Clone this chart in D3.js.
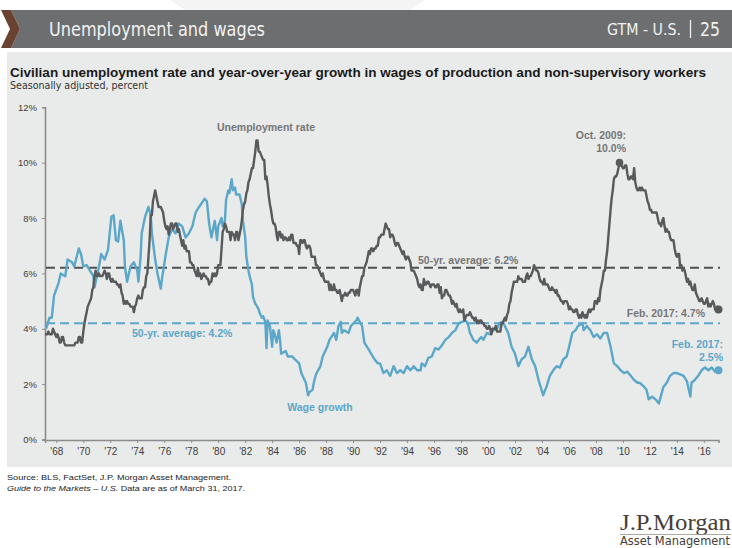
<!DOCTYPE html>
<html>
<head>
<meta charset="utf-8">
<script src="https://cdn.jsdelivr.net/npm/d3@7"></script>
<style>
  html, body { margin: 0; padding: 0; background: #ffffff; }
  svg { display: block; font-family: "Liberation Sans", Arial, sans-serif; }
</style>
</head>
<body>
<svg id="chart" width="732" height="548"></svg>
<script>
// Civilian unemployment rate, monthly, seasonally adjusted (%), from March 1967
const unemploymentStart = "1967-03";
const unemploymentRate = [
  3.8,3.8,3.8,3.9,3.8,3.8,3.8,4.0,3.9,3.8,
  3.7,3.8,3.7,3.5,3.5,3.7,3.7,3.5,3.4,3.4,3.4,3.4,
  3.4,3.4,3.4,3.4,3.4,3.5,3.5,3.5,3.7,3.7,3.5,3.5,
  3.9,4.2,4.4,4.6,4.8,4.9,5.0,5.1,5.4,5.5,5.9,6.1,
  5.9,5.9,6.0,5.9,5.9,5.9,6.0,6.1,6.0,5.8,6.0,6.0,
  5.8,5.7,5.8,5.7,5.7,5.7,5.6,5.6,5.5,5.6,5.3,5.2,
  4.9,5.0,4.9,5.0,4.9,4.9,4.8,4.8,4.8,4.6,4.8,4.9,
  5.1,5.2,5.1,5.1,5.1,5.4,5.5,5.5,5.9,6.0,6.6,7.2,
  8.1,8.1,8.6,8.8,9.0,8.8,8.6,8.4,8.4,8.4,8.3,8.2,
  7.9,7.7,7.6,7.7,7.4,7.6,7.8,7.8,7.6,7.7,7.8,7.8,
  7.5,7.6,7.4,7.2,7.0,7.2,6.9,7.0,6.8,6.8,6.8,6.4,
  6.4,6.3,6.3,6.1,6.0,5.9,6.2,5.9,6.0,5.8,5.9,6.0,
  5.9,5.9,5.8,5.8,5.6,5.7,5.7,6.0,5.9,6.0,5.9,6.0,
  6.3,6.3,6.3,6.9,7.5,7.6,7.8,7.7,7.5,7.5,7.5,7.2,
  7.5,7.4,7.4,7.2,7.5,7.5,7.2,7.4,7.6,7.9,8.3,8.5,
  8.6,8.9,9.0,9.3,9.4,9.6,9.8,9.8,10.1,10.4,10.8,10.8,
  10.4,10.4,10.3,10.2,10.1,10.1,9.4,9.5,9.2,8.8,8.5,8.3,
  8.0,7.8,7.8,7.7,7.4,7.2,7.5,7.5,7.3,7.4,7.2,7.3,
  7.3,7.2,7.2,7.3,7.2,7.4,7.4,7.1,7.1,7.1,7.0,7.0,
  6.7,7.2,7.2,7.1,7.2,7.2,7.0,6.9,7.0,7.0,6.9,6.6,
  6.6,6.6,6.6,6.3,6.3,6.2,6.1,6.0,5.9,6.0,5.8,5.7,
  5.7,5.7,5.7,5.4,5.6,5.4,5.4,5.6,5.4,5.4,5.3,5.3,
  5.4,5.2,5.0,5.2,5.2,5.3,5.2,5.2,5.3,5.3,5.4,5.4,
  5.4,5.3,5.2,5.4,5.4,5.2,5.5,5.7,5.9,5.9,6.2,6.3,
  6.4,6.6,6.8,6.7,6.9,6.9,6.8,6.9,6.9,7.0,7.0,7.3,
  7.3,7.4,7.4,7.4,7.6,7.8,7.7,7.6,7.6,7.3,7.4,7.4,
  7.3,7.1,7.0,7.1,7.1,7.0,6.9,6.8,6.7,6.8,6.6,6.5,
  6.6,6.6,6.5,6.4,6.1,6.1,6.1,6.0,5.9,5.8,5.6,5.5,
  5.6,5.4,5.4,5.8,5.6,5.6,5.7,5.7,5.6,5.5,5.6,5.6,
  5.6,5.5,5.5,5.6,5.6,5.3,5.5,5.1,5.2,5.2,5.4,5.4,
  5.3,5.2,5.2,5.1,4.9,5.0,4.9,4.8,4.9,4.7,4.6,4.7,
  4.6,4.6,4.7,4.3,4.4,4.5,4.5,4.5,4.6,4.5,4.4,4.4,
  4.3,4.4,4.2,4.3,4.2,4.3,4.3,4.2,4.2,4.1,4.1,4.0,
  4.0,4.1,4.0,3.8,4.0,4.0,4.0,4.1,3.9,3.9,3.9,3.9,
  4.2,4.2,4.3,4.4,4.3,4.5,4.6,4.9,5.0,5.3,5.5,5.7,
  5.7,5.7,5.7,5.9,5.8,5.8,5.8,5.7,5.7,5.7,5.9,6.0,
  5.8,5.9,5.9,6.0,6.1,6.3,6.2,6.1,6.1,6.0,5.8,5.7,
  5.7,5.6,5.8,5.6,5.6,5.6,5.5,5.4,5.4,5.5,5.4,5.4,
  5.3,5.4,5.2,5.2,5.1,5.0,5.0,4.9,5.0,5.0,5.0,4.9,
  4.7,4.8,4.7,4.7,4.6,4.6,4.7,4.7,4.5,4.4,4.5,4.4,
  4.6,4.5,4.4,4.5,4.4,4.6,4.7,4.6,4.7,4.7,4.7,5.0,
  5.0,4.9,5.1,5.0,5.4,5.6,5.8,6.1,6.1,6.5,6.8,7.3,
  7.8,8.3,8.7,9.0,9.4,9.5,9.5,9.6,9.8,10.0,9.9,9.9,
  9.8,9.8,9.9,9.9,9.6,9.4,9.4,9.5,9.5,9.4,9.8,9.3,
  9.1,9.0,9.0,9.1,9.0,9.1,9.0,9.0,9.0,8.8,8.6,8.5,
  8.3,8.3,8.2,8.2,8.2,8.2,8.2,8.0,7.8,7.8,7.7,7.9,
  8.0,7.7,7.5,7.6,7.5,7.5,7.3,7.2,7.2,7.2,6.9,6.7,
  6.6,6.7,6.7,6.2,6.3,6.1,6.2,6.1,5.9,5.7,5.8,5.6,
  5.7,5.5,5.4,5.4,5.6,5.3,5.2,5.1,5.0,5.0,5.1,5.0,
  4.9,4.9,5.0,5.1,4.8,4.9,4.8,4.9,5.0,4.9,4.7,4.7,
  4.8,4.7
];

// Year-over-year growth in average hourly earnings of production and
// non-supervisory workers (%)
const wageGrowth = [
  ["1967-04",4.0],["1967-07",4.4],["1967-09",4.4],["1967-11",5.2],
  ["1968-03",5.65],["1968-05",6.0],["1968-09",5.9],["1968-11",6.5],
  ["1969-03",6.4],["1969-05",6.25],["1969-09",6.9],["1969-11",6.7],
  ["1970-01",6.25],["1970-04",6.3],["1970-07",6.1],["1970-10",5.9],["1970-11",5.5],
  ["1971-03",6.25],["1971-05",6.7],["1971-08",6.5],["1971-11",6.85],
  ["1972-02",8.05],["1972-04",8.1],["1972-06",7.2],["1972-08",7.15],["1972-10",7.9],
  ["1973-01",7.2],["1973-02",6.25],["1973-04",5.7],["1973-07",6.25],["1973-10",6.4],
  ["1974-01",6.1],["1974-02",5.7],["1974-04",6.6],["1974-05",7.45],["1974-08",8.05],["1974-11",8.4],
  ["1975-01",8.1],["1975-02",7.45],["1975-05",6.5],["1975-07",6.0],["1975-10",5.45],["1975-11",5.8],
  ["1976-02",6.6],["1976-05",7.3],["1976-08",7.6],["1976-11",7.45],
  ["1977-02",7.8],["1977-05",7.7],["1977-08",7.3],["1977-11",7.45],
  ["1978-02",7.7],["1978-05",8.2],["1978-08",8.4],
  ["1979-01",8.7],["1979-03",8.6],["1979-05",7.8],["1979-07",7.3],["1979-10",7.9],["1979-12",7.2],
  ["1980-01",7.7],["1980-03",7.9],["1980-04",8.0],["1980-05",7.7],["1980-07",7.9],["1980-08",8.65],["1980-10",9.0],["1980-11",8.9],
  ["1981-01",9.4],["1981-02",9.0],["1981-04",9.1],["1981-05",8.85],["1981-08",8.85],["1981-10",8.5],["1981-11",7.9],
  ["1982-01",7.3],["1982-02",6.6],["1982-04",6.1],["1982-05",5.9],["1982-07",5.6],["1982-08",5.15],["1982-10",4.9],["1982-11",4.85],
  ["1983-01",4.7],["1983-02",4.55],["1983-04",4.4],["1983-05",4.45],["1983-07",4.25],["1983-08",3.3],["1983-09",4.3],["1983-11",4.1],
  ["1984-01",3.35],["1984-02",3.95],["1984-03",3.85],["1984-05",3.5],["1984-07",3.95],["1984-08",3.6],["1984-09",3.1],
  ["1985-01",3.2],["1985-03",3.0],["1985-07",3.0],["1985-09",2.9],
  ["1986-01",2.75],["1986-03",2.4],["1986-07",2.05],["1986-09",1.6],["1986-10",1.7],
  ["1987-01",1.8],["1987-02",2.05],["1987-04",2.35],["1987-08",2.65],["1987-10",3.0],
  ["1988-02",3.35],["1988-04",3.6],["1988-08",3.85],["1988-10",3.6],["1988-12",4.1],
  ["1989-02",4.25],["1989-03",3.85],["1989-05",3.95],["1989-09",3.85],["1989-11",4.1],
  ["1990-04",4.3],["1990-05",4.4],["1990-09",4.1],["1990-11",3.5],
  ["1991-03",3.25],["1991-05",3.1],["1991-08",2.9],["1991-11",2.75],
  ["1992-01",2.75],["1992-04",2.4],["1992-07",2.5],["1992-10",2.3],
  ["1993-01",2.65],["1993-04",2.4],["1993-07",2.5],["1993-10",2.4],
  ["1994-01",2.65],["1994-04",2.5],["1994-07",2.65],["1994-10",2.5],
  ["1995-01",2.5],["1995-02",2.75],["1995-05",2.65],["1995-08",2.95],["1995-11",3.0],
  ["1996-02",3.3],["1996-05",3.25],["1996-08",3.4],["1996-11",3.6],
  ["1997-02",3.7],["1997-05",3.85],["1997-08",3.95],["1997-11",4.2],
  ["1998-02",4.25],["1998-05",4.3],["1998-07",4.2],["1998-09",3.85],["1998-12",3.6],
  ["1999-03",3.5],["1999-07",3.7],["1999-09",3.6],["1999-12",3.85],
  ["2000-03",3.8],["2000-06",3.95],["2000-09",4.0],["2000-11",4.2],
  ["2001-02",4.25],["2001-04",4.1],["2001-07",3.85],["2001-10",3.35],
  ["2002-01",3.1],["2002-04",2.65],["2002-07",2.9],["2002-10",3.0],
  ["2003-01",3.35],["2003-04",2.9],["2003-07",2.65],["2003-10",2.15],
  ["2004-01",1.75],["2004-02",1.6],["2004-05",1.9],["2004-08",2.3],["2004-11",2.5],
  ["2005-02",2.65],["2005-05",2.6],["2005-08",2.9],["2005-11",3.0],
  ["2006-02",3.5],["2006-04",3.85],["2006-07",3.95],["2006-09",4.1],
  ["2007-01",4.2],["2007-02",3.95],["2007-05",4.1],["2007-08",3.95],["2007-11",3.7],
  ["2008-02",3.8],["2008-05",3.65],["2008-08",3.85],["2008-11",3.85],
  ["2009-02",3.35],["2009-05",2.75],["2009-08",2.65],["2009-11",2.5],
  ["2010-02",2.4],["2010-05",2.45],["2010-08",2.3],["2010-11",2.15],
  ["2011-02",2.05],["2011-04",2.05],["2011-08",1.9],["2011-10",1.8],["2011-12",1.45],
  ["2012-03",1.55],["2012-06",1.45],["2012-09",1.3],["2012-10",1.45],
  ["2013-01",1.9],["2013-04",2.05],["2013-07",2.3],["2013-10",2.4],
  ["2014-01",2.4],["2014-04",2.35],["2014-07",2.3],["2014-10",2.1],
  ["2015-01",1.55],["2015-02",2.05],["2015-05",2.15],["2015-08",2.3],["2015-11",2.5],
  ["2016-02",2.6],["2016-05",2.5],["2016-08",2.6],["2016-11",2.45],
  ["2017-02",2.5]
];

const unemploymentAverage = 6.2;
const wageAverage = 4.2;
const peakPoint = ["2009-10", 10.0];
const yTickValues = [0, 2, 4, 6, 8, 10, 12];
const xTickYears = d3.range(1968, 2017, 2);

const parseMonth = d3.timeParse("%Y-%m");
const svg = d3.select("#chart");

const colors = {
  unemployment: "#58595b",
  wages: "#5ba7c9",
  label: "#767676",
  axis: "#8c8c8c",
  tickText: "#3c3c3c"
};

// ---------- page furniture ----------
svg.append("polygon")
  .attr("points", "170,0 425,0 410,10 185,10")
  .attr("fill", "#f4f4f4");

svg.append("polygon")
  .attr("points", "11,10 732,10 732,48 11,48 20,29")
  .attr("fill", "#6d6e70");
svg.append("polygon")
  .attr("points", "1,10 11,10 20,29 11,48 1,48 10,29")
  .attr("fill", "#6a4232");

const narrow = '"Liberation Sans Narrow","DejaVu Sans Condensed","Arial Narrow",sans-serif';
svg.append("text")
  .attr("x", 49).attr("y", 36)
  .attr("fill", "#f2f2f2")
  .attr("font-family", narrow)
  .attr("font-size", 19)
  .attr("textLength", 216).attr("lengthAdjust", "spacingAndGlyphs")
  .text("Unemployment and wages");
svg.append("text")
  .attr("x", 607).attr("y", 35)
  .attr("fill", "#f2f2f2")
  .attr("font-family", narrow)
  .attr("font-size", 15)
  .attr("textLength", 74).attr("lengthAdjust", "spacingAndGlyphs")
  .text("GTM - U.S.");
svg.append("line")
  .attr("x1", 690.5).attr("x2", 690.5).attr("y1", 20).attr("y2", 38)
  .attr("stroke", "#f2f2f2").attr("stroke-width", 1.3);
svg.append("text")
  .attr("x", 700).attr("y", 36)
  .attr("fill", "#f2f2f2")
  .attr("font-family", narrow)
  .attr("font-size", 19)
  .attr("textLength", 20).attr("lengthAdjust", "spacingAndGlyphs")
  .text("25");

svg.append("rect")
  .attr("x", 7).attr("y", 52).attr("width", 725).attr("height", 415)
  .attr("fill", "#e9eaea");

svg.append("text")
  .attr("x", 10).attr("y", 77)
  .attr("fill", "#1a1a1a")
  .attr("font-weight", "bold")
  .attr("font-size", 12)
  .attr("textLength", 696).attr("lengthAdjust", "spacingAndGlyphs")
  .text("Civilian unemployment rate and year-over-year growth in wages of production and non-supervisory workers");
svg.append("text")
  .attr("x", 10).attr("y", 89)
  .attr("fill", "#333")
  .attr("font-family", narrow)
  .attr("font-size", 10)
  .attr("textLength", 138).attr("lengthAdjust", "spacingAndGlyphs")
  .text("Seasonally adjusted, percent");

// ---------- scales ----------
const x = d3.scaleTime()
  .domain([parseMonth("1967-03"), parseMonth("2017-02")])
  .range([45, 718.5]);
const y = d3.scaleLinear().domain([0, 12]).range([439.5, 107.3]);

// ---------- axes ----------
const yAxis = svg.append("g")
  .attr("transform", "translate(45,0)")
  .call(d3.axisLeft(y).tickValues(yTickValues).tickSize(3).tickPadding(5)
    .tickFormat(d => d + "%"));
yAxis.select(".domain").attr("stroke", colors.axis).attr("stroke-width", 1.6);
yAxis.selectAll(".tick line").attr("stroke", colors.axis);
yAxis.selectAll(".tick text")
  .attr("fill", colors.tickText).attr("font-size", 9.5)
  .attr("font-family", "Liberation Sans, Arial, sans-serif");

const xAxis = svg.append("g")
  .attr("transform", "translate(0,440)")
  .call(d3.axisBottom(x)
    .tickValues(xTickYears.map(yr => new Date(yr, 0, 1)))
    .tickSize(3).tickPadding(5)
    .tickFormat(d3.timeFormat("'%y")));
xAxis.select(".domain").attr("stroke", colors.axis).attr("stroke-width", 1.6);
xAxis.selectAll(".tick line").attr("stroke", colors.axis);
xAxis.selectAll(".tick text")
  .attr("fill", colors.tickText).attr("font-size", 10)
  .attr("font-family", "Liberation Sans, Arial, sans-serif");

// ---------- average lines ----------
svg.append("line")
  .attr("x1", 46).attr("x2", 720)
  .attr("y1", y(unemploymentAverage)).attr("y2", y(unemploymentAverage))
  .attr("stroke", "#4f5052").attr("stroke-width", 2)
  .attr("stroke-dasharray", "9,5");
svg.append("line")
  .attr("x1", 46).attr("x2", 720)
  .attr("y1", y(wageAverage)).attr("y2", y(wageAverage))
  .attr("stroke", colors.wages).attr("stroke-width", 2)
  .attr("stroke-dasharray", "9,5");

// ---------- series ----------
const start = parseMonth(unemploymentStart);
const unemploymentSeries = unemploymentRate.map((v, i) => ({
  date: d3.timeMonth.offset(start, i), value: v
}));
const wageSeries = wageGrowth.map(([m, v]) => ({ date: parseMonth(m), value: v }));

const line = d3.line().x(d => x(d.date)).y(d => y(d.value));

svg.append("path")
  .datum(wageSeries)
  .attr("d", line)
  .attr("fill", "none")
  .attr("stroke", colors.wages)
  .attr("stroke-width", 2.4)
  .attr("stroke-linejoin", "round");

svg.append("path")
  .datum(unemploymentSeries)
  .attr("d", line)
  .attr("fill", "none")
  .attr("stroke", colors.unemployment)
  .attr("stroke-width", 2.4)
  .attr("stroke-linejoin", "round");

// highlighted points
const lastU = unemploymentSeries[unemploymentSeries.length - 1];
const lastW = wageSeries[wageSeries.length - 1];
svg.append("circle")
  .attr("cx", x(parseMonth(peakPoint[0]))).attr("cy", y(peakPoint[1])).attr("r", 3.8)
  .attr("fill", colors.unemployment);
svg.append("circle")
  .attr("cx", x(lastU.date)).attr("cy", y(lastU.value)).attr("r", 4)
  .attr("fill", colors.unemployment);
svg.append("circle")
  .attr("cx", x(lastW.date)).attr("cy", y(lastW.value)).attr("r", 4)
  .attr("fill", colors.wages);

// ---------- annotations ----------
function label(txt, xPos, yPos, color, anchor) {
  svg.append("text")
    .attr("x", xPos).attr("y", yPos)
    .attr("fill", color)
    .attr("font-size", 10.5)
    .attr("font-weight", "bold")
    .attr("text-anchor", anchor || "start")
    .text(txt);
}
label("Unemployment rate", 266, 131, colors.label, "middle");
label("50-yr. average: " + unemploymentAverage.toFixed(1) + "%", 418, 264, colors.label);
label("50-yr. average: " + wageAverage.toFixed(1) + "%", 132, 337, colors.wages);
label("Wage growth", 320, 411, colors.wages, "middle");
label("Oct. 2009:", 626, 139, colors.label, "end");
label(peakPoint[1].toFixed(1) + "%", 626, 152, colors.label, "end");
label("Feb. 2017: " + lastU.value.toFixed(1) + "%", 705, 317, colors.label, "end");
label("Feb. 2017:", 723, 348, colors.wages, "end");
label(lastW.value.toFixed(1) + "%", 723, 361, colors.wages, "end");

// ---------- footer ----------
svg.append("text")
  .attr("x", 7).attr("y", 480)
  .attr("fill", "#222").attr("font-size", 8)
  .attr("textLength", 224).attr("lengthAdjust", "spacingAndGlyphs")
  .text("Source: BLS, FactSet, J.P. Morgan Asset Management.");
const note = svg.append("text")
  .attr("x", 7).attr("y", 491)
  .attr("fill", "#222").attr("font-size", 8)
  .attr("textLength", 238).attr("lengthAdjust", "spacingAndGlyphs");
note.append("tspan").attr("font-style", "italic").text("Guide to the Markets – U.S.");
note.append("tspan").text(" Data are as of March 31, 2017.");

svg.append("text")
  .attr("x", 620).attr("y", 530)
  .attr("fill", "#463d37")
  .attr("font-family", '"Liberation Serif","DejaVu Serif",serif')
  .attr("font-size", 23)
  .attr("textLength", 111).attr("lengthAdjust", "spacingAndGlyphs")
  .text("J.P.Morgan");
svg.append("line")
  .attr("x1", 620).attr("x2", 731).attr("y1", 534.5).attr("y2", 534.5)
  .attr("stroke", "#9a928c").attr("stroke-width", 0.8);
svg.append("text")
  .attr("x", 620).attr("y", 545)
  .attr("fill", "#463d37")
  .attr("font-family", narrow)
  .attr("font-size", 11.5)
  .attr("textLength", 110).attr("lengthAdjust", "spacingAndGlyphs")
  .text("Asset Management");
</script>
</body>
</html>
